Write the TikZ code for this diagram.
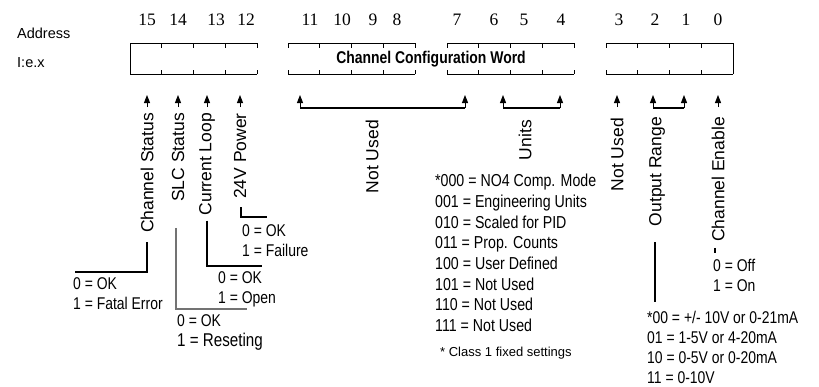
\documentclass[tikz,border=0pt]{standalone}
\usepackage{fontspec}
\newfontfamily\arialfont{Liberation Sans}
\newfontfamily\condfont[FakeStretch=0.82]{Liberation Sans}
\newfontfamily\timesfont{Liberation Serif}
\usetikzlibrary{arrows.meta,calc}

\begin{document}
\begin{tikzpicture}[
  x=1pt, y=-1pt,
  field/.style={font=\arialfont\fontsize{17.5}{20}\selectfont, rotate=90,
                anchor=east, inner sep=0pt},
  codes/.style={font=\condfont\fontsize{17}{20}\selectfont, align=left,
                anchor=north west, inner sep=0pt},
  bitno/.style={font=\timesfont\fontsize{17.5}{18}\selectfont, inner sep=0pt},
  addr/.style={font=\arialfont\fontsize{14.5}{16}\selectfont, anchor=west, inner sep=0pt},
  arr/.style={-{Triangle[length=8pt,width=6pt]}, line width=1pt},
  lead/.style={line width=1.2pt},
  reg/.style={line width=0.8pt}
]
\useasboundingbox (0,0) rectangle (819,386);

% register word
\foreach \gx in {130,288,447,606} {
  \draw[reg] (\gx,43) -- ++(127,0) (\gx,74) -- ++(127,0);
  \foreach \k in {0,...,4}
    \draw[reg] (\gx+\k*31.75,43) -- ++(0,4.5) (\gx+\k*31.75,74) -- ++(0,-4.5);
}
\draw[reg] (130,43) -- (130,74) (733,43) -- (733,74);

\foreach \b/\bx in {15/147,14/178,13/216,12/246,11/310,10/342,9/373,8/397,
                    7/457,6/494,5/524,4/561,3/619,2/655,1/686,0/718}
  \node[bitno] (b\b) at (\bx,20) {\b};

\node[font=\condfont\bfseries\fontsize{17}{20}\selectfont] (cfg) at (431,59)
  {Channel Configuration Word};
\node[addr] (adr) at (17,33) {Address};
\node[addr] (iex) at (17,63) {I:e.x};

% field names
\node[field] (chst)  at (147,113) {Channel Status};
\node[field] (slc)   at (178,113) {SLC Status};
\node[field] (cloop) at (207,113) {Current Loop};
\node[field] (pwr)   at (240,113) {24V Power};
\node[field] (nu1)   at (372,120) {Not Used};
\node[field] (units) at (525,120) {Units};
\node[field] (nu2)   at (617,118) {Not Used};
\node[field] (orng)  at (657,117) {Output Range};
\node[field] (chen)  at (718,117) {Channel Enable};

% single bit arrows
\foreach \n/\ax in {cs/147,ss/178,cl/207,pw/240,n3/617,ce/718} {
  \coordinate (\n-tip)  at (\ax,95);
  \coordinate (\n-foot) at (\ax,107);
  \draw[arr] (\n-foot) -- (\n-tip);
}

% grouped bit arrows
\foreach \n/\xa/\xb in {nu/300/465,un/503/560,or/653/684} {
  \coordinate (\n-l) at (\xa,108);  \coordinate (\n-lt) at (\xa,95);
  \coordinate (\n-r) at (\xb,108);  \coordinate (\n-rt) at (\xb,95);
  \draw[lead] (\n-l) -- (\n-r);
  \draw[arr] (\n-l) -- (\n-lt);
  \draw[arr] (\n-r) -- (\n-rt);
}

% value tables
\node[codes] (chstv)  at (73,277)  {0 = OK\\1 = Fatal Error};
\node[codes] (slcv)   at (177,314) {0 = OK\\{\fontsize{18.5}{20}\selectfont 1 = Reseting}};
\node[codes] (cloopv) at (218,271) {0 = OK\\1 = Open};
\node[codes] (pwrv)   at (242,224) {0 = OK\\1 = Failure};
\node[codes, font=\condfont\fontsize{17.3}{20.7}\selectfont] (unitv) at (435,174)
  {*000 = NO4 Comp. Mode\\001 = Engineering Units\\010 = Scaled for PID\\
   011 = Prop. Counts\\100 = User Defined\\101 = Not Used\\110 = Not Used\\111 = Not Used};
\node[font=\arialfont\fontsize{13}{15}\selectfont, anchor=west, inner sep=0pt]
  (note) at (440,353) {* Class 1 fixed settings};
\node[codes] (chenv)  at (713,259) {0 = Off\\1 = On};
\node[codes] (orngv)  at (647,311)
  {*00 = +/- 10V or 0-21mA\\01 = 1-5V or 4-20mA\\10 = 0-5V or 0-20mA\\11 = 0-10V};

% leaders
\draw[lead] ($(chst.west)+(0,9)$) |- ($(chstv.north west)+(2,-5)$);
\draw[lead, black!55] ($(slc.west)+(-2,26)$) |- ($(slcv.north west)+(70,-5)$);
\draw[lead] ($(cloop.west)+(0,5)$) |- ($(cloopv.north west)+(44,-5)$);
\draw[lead] ($(pwr.west)+(1,8)$) |- ($(pwrv.north west)+(25,-7)$);
\draw[lead] ($(orng.west)+(-2,16)$) -- ($(orng.west |- orngv.north)+(-2,-9)$);
\draw[lead] ($(chen.west)+(-3,6)$) -- ($(chen.west |- chenv.north)+(-3,-6)$);
\end{tikzpicture}
\end{document}
